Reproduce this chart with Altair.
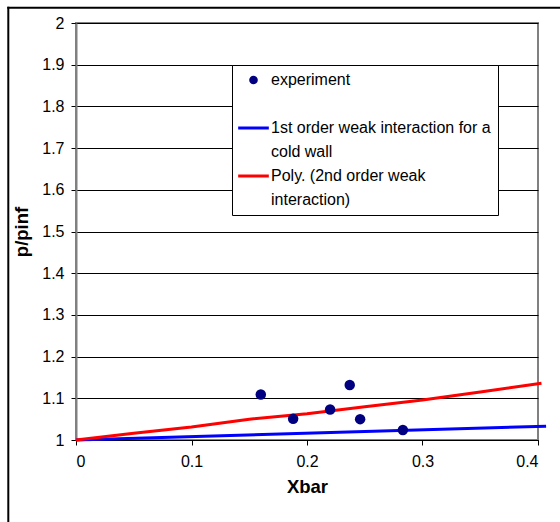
import altair as alt
import pandas as pd

# ---- data ----
exp_x = [0.160, 0.188, 0.220, 0.237, 0.246, 0.283]
exp_y = [1.109, 1.051, 1.073, 1.132, 1.050, 1.024]

first_x = [0.0, 0.407]
first_y = [1.0, 1.033]

poly_x = [0.0, 0.05, 0.1, 0.15, 0.2, 0.25, 0.3, 0.35, 0.403]
poly_y = [1.0, 1.016, 1.031, 1.050, 1.063, 1.080, 1.096, 1.115, 1.136]

legend_labels = ["experiment", " ", "1st order weak interaction for a", "cold wall",
                 "Poly. (2nd order weak", "interaction)"]
legend_colors = ["#000080", "transparent", "#0000ff", "transparent", "#ff0000", "transparent"]

x_ticks = [0, 0.1, 0.2, 0.3, 0.4]
y_ticks = [1, 1.1, 1.2, 1.3, 1.4, 1.5, 1.6, 1.7, 1.8, 1.9, 2]

FONT = "Liberation Sans"

pts = pd.DataFrame({"xbar": exp_x, "p": exp_y, "series": "experiment"})
lines = pd.concat([
    pd.DataFrame({"xbar": first_x, "p": first_y, "series": legend_labels[2]}),
    pd.DataFrame({"xbar": poly_x, "p": poly_y, "series": legend_labels[4]}),
])

legend = alt.Legend(
    title=None,
    orient="none",
    legendX=156,
    legendY=42,
    padding=7,
    fillColor="white",
    strokeColor="black",
    labelFont=FONT,
    labelFontSize=16,
    labelColor="black",
    labelOffset=9.5,
    labelLimit=400,
    rowPadding=8,
    symbolOffset=6.5,
    symbolType=alt.ExprRef(expr="datum.value == 'experiment' ? 'circle' : 'stroke'"),
    symbolSize=alt.ExprRef(expr="datum.value == 'experiment' ? 75 : 940"),
    symbolStrokeWidth=alt.ExprRef(expr="datum.value == 'experiment' ? 0 : 3"),
)

color = alt.Color(
    "series:N",
    scale=alt.Scale(domain=legend_labels, range=legend_colors),
    legend=legend,
)

x_enc = alt.X(
    "xbar:Q",
    scale=alt.Scale(domain=[0, 0.4], nice=False, zero=False),
    axis=alt.Axis(
        values=x_ticks, format="~g", title="Xbar", grid=False,
        domainColor="black", domainWidth=1,
        tickColor="black", tickSize=5, tickWidth=1,
        labelFont=FONT, labelFontSize=16, labelColor="black", labelPadding=8,
        titleFont=FONT, titleFontSize=18.5, titleFontWeight="bold", titleColor="black",
        titlePadding=8,
    ),
)
y_enc = alt.Y(
    "p:Q",
    scale=alt.Scale(domain=[1, 2], nice=False, zero=False),
    axis=alt.Axis(
        values=y_ticks, format="~g", title="p/pinf", grid=True,
        gridColor="black", gridWidth=1, gridOpacity=1,
        domainColor="#808080", domainWidth=2,
        tickColor="black", tickSize=5, tickWidth=1,
        labelFont=FONT, labelFontSize=16, labelColor="black", labelPadding=7,
        titleFont=FONT, titleFontSize=18.5, titleFontWeight="bold", titleColor="black",
        titlePadding=10,
    ),
)

line_layer = alt.Chart(lines).mark_line(strokeWidth=3).encode(
    x=x_enc, y=y_enc, color=color, detail="series:N"
)
point_layer = alt.Chart(pts).mark_circle(size=110, opacity=1).encode(
    x=x_enc, y=y_enc, color=color
)

frame_data = alt.Data(values=[{"k": 0}])
frame_left = alt.Chart(frame_data).mark_rule(color="black", strokeWidth=2).encode(
    x=alt.value(-67.7), y=alt.value(-16.3), y2=alt.value(520)
)
frame_top = alt.Chart(frame_data).mark_rule(color="black", strokeWidth=2).encode(
    y=alt.value(-15.3), x=alt.value(-68.7), x2=alt.value(520)
)

chart = alt.layer(line_layer, point_layer, frame_left, frame_top).properties(
    width=462,
    height=417,
    autosize=alt.AutoSizeParams(type="none"),
    padding={"left": 76, "top": 23, "right": 22, "bottom": 82},
    background="white",
).configure_view(
    stroke="#808080", strokeWidth=2
)

chart.save("out.html", embed_options={"renderer": "svg", "actions": False})
